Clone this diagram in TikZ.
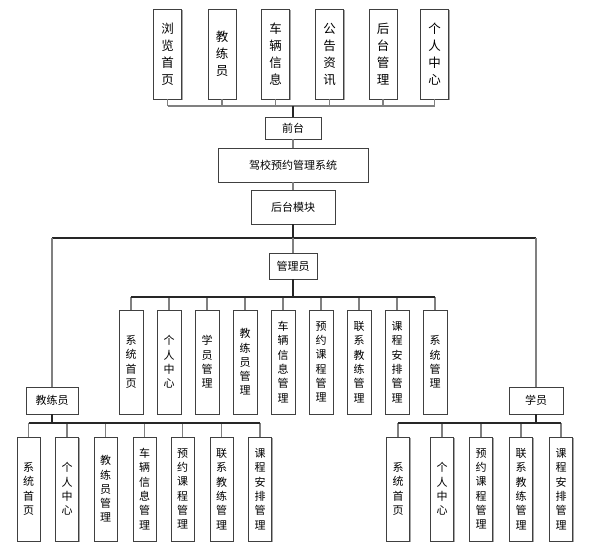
\documentclass[tikz,border=0pt]{standalone}
\usepackage{fontspec}
\newfontfamily\cjk{Noto Sans CJK SC}
\usetikzlibrary{shadows}
\begin{document}
\begin{tikzpicture}[x=1pt,y=-1pt,
  box/.style={draw=black!75,line width=0.9pt,fill=white,inner sep=0pt,align=center,
    drop shadow={shadow xshift=1.2pt,shadow yshift=-1.2pt,fill=black!35,opacity=1}},
  topbox/.style={box,minimum width=28pt,minimum height=90pt,font=\cjk\fontsize{12.5}{17}\selectfont},
  leafbox/.style={box,minimum width=24pt,minimum height=104pt,font=\cjk\fontsize{11}{14.3}\selectfont},
  hbox/.style={box,font=\cjk\fontsize{11}{13}\selectfont},
  bus/.style={draw=black!85,line width=1.4pt},
  branch/.style={draw=black!50,line width=1.3pt}]
\useasboundingbox (0,0) rectangle (604,552);
\fill[white] (0,0) rectangle (604,552);

% top row
\node[topbox] (t1) at (167.5,54) {浏\\览\\首\\页};
\node[topbox] (t2) at (222,54) {教\\练\\员};
\node[topbox] (t3) at (275.5,54) {车\\辆\\信\\息};
\node[topbox] (t4) at (329.5,54) {公\\告\\资\\讯};
\node[topbox] (t5) at (383,54) {后\\台\\管\\理};
\node[topbox] (t6) at (434.5,54) {个\\人\\中\\心};

\node[hbox,minimum width=56pt,minimum height=22pt] (qt) at (293,128) {前台};
\node[hbox,minimum width=150pt,minimum height=34pt] (sys) at (293,165) {驾校预约管理系统};
\node[hbox,minimum width=84pt,minimum height=34pt] (ht) at (293,207) {后台模块};

\coordinate (jtop) at (293,106);
\foreach \i in {1,...,6}{\draw[branch] (t\i.south) -- (t\i.south |- jtop);}
\draw[branch] (t1.south |- jtop) -- (t6.south |- jtop);
\draw[bus] (jtop) -- (qt.north);
\draw[branch] (qt.south) -- (sys.north);
\draw[branch] (sys.south) -- (ht.north);

% roles
\node[hbox,minimum width=48pt,minimum height=26pt] (gly) at (293,266) {管理员};
\node[hbox,minimum width=52pt,minimum height=27pt] (jly) at (52,400.5) {教练员};
\node[hbox,minimum width=54pt,minimum height=27pt] (xy) at (536,400.5) {学员};

\coordinate (jmain) at (293,238);
\draw[bus] (ht.south) -- (jmain);
\draw[bus] (jly.north |- jmain) -- (xy.north |- jmain);
\draw[branch] (jmain) -- (gly.north);
\draw[branch] (jly.north |- jmain) -- (jly.north);
\draw[branch] (xy.north |- jmain) -- (xy.north);

% admin leaves
\node[leafbox] (a1) at (131,362) {系\\统\\首\\页};
\node[leafbox] (a2) at (169,362) {个\\人\\中\\心};
\node[leafbox] (a3) at (207,362) {学\\员\\管\\理};
\node[leafbox] (a4) at (245,362) {教\\练\\员\\管\\理};
\node[leafbox] (a5) at (283,362) {车\\辆\\信\\息\\管\\理};
\node[leafbox] (a6) at (321,362) {预\\约\\课\\程\\管\\理};
\node[leafbox] (a7) at (359,362) {联\\系\\教\\练\\管\\理};
\node[leafbox] (a8) at (397,362) {课\\程\\安\\排\\管\\理};
\node[leafbox] (a9) at (435,362) {系\\统\\管\\理};
\coordinate (jadm) at (293,297);
\foreach \i in {1,...,9}{\draw[branch] (a\i.north) -- (a\i.north |- jadm);}
\draw[bus] (a1.north |- jadm) -- (a9.north |- jadm);
\draw[bus] (gly.south) -- (jadm);

% coach leaves
\node[leafbox,minimum width=23pt] (c1) at (28.5,489) {系\\统\\首\\页};
\node[leafbox,minimum width=23pt] (c2) at (67,489) {个\\人\\中\\心};
\node[leafbox,minimum width=23pt] (c3) at (105.5,489) {教\\练\\员\\管\\理};
\node[leafbox,minimum width=23pt] (c4) at (144.5,489) {车\\辆\\信\\息\\管\\理};
\node[leafbox,minimum width=23pt] (c5) at (182.5,489) {预\\约\\课\\程\\管\\理};
\node[leafbox,minimum width=23pt] (c6) at (221.5,489) {联\\系\\教\\练\\管\\理};
\node[leafbox,minimum width=23pt] (c7) at (260,489) {课\\程\\安\\排\\管\\理};
\coordinate (jcoach) at (52,423);
\foreach \i in {1,...,7}{\draw[branch] (c\i.north) -- (c\i.north |- jcoach);}
\draw[bus] (c1.north |- jcoach) -- (c7.north |- jcoach);
\draw[bus] (jly.south) -- (jcoach);

% student leaves
\node[leafbox,minimum width=23pt] (s1) at (398,489) {系\\统\\首\\页};
\node[leafbox,minimum width=23pt] (s2) at (442,489) {个\\人\\中\\心};
\node[leafbox,minimum width=23pt] (s3) at (481,489) {预\\约\\课\\程\\管\\理};
\node[leafbox,minimum width=23pt] (s4) at (521,489) {联\\系\\教\\练\\管\\理};
\node[leafbox,minimum width=23pt] (s5) at (561,489) {课\\程\\安\\排\\管\\理};
\coordinate (jstu) at (536,423);
\foreach \i in {1,...,5}{\draw[branch] (s\i.north) -- (s\i.north |- jstu);}
\draw[bus] (s1.north |- jstu) -- (s5.north |- jstu);
\draw[bus] (xy.south) -- (jstu);
\end{tikzpicture}
\end{document}
